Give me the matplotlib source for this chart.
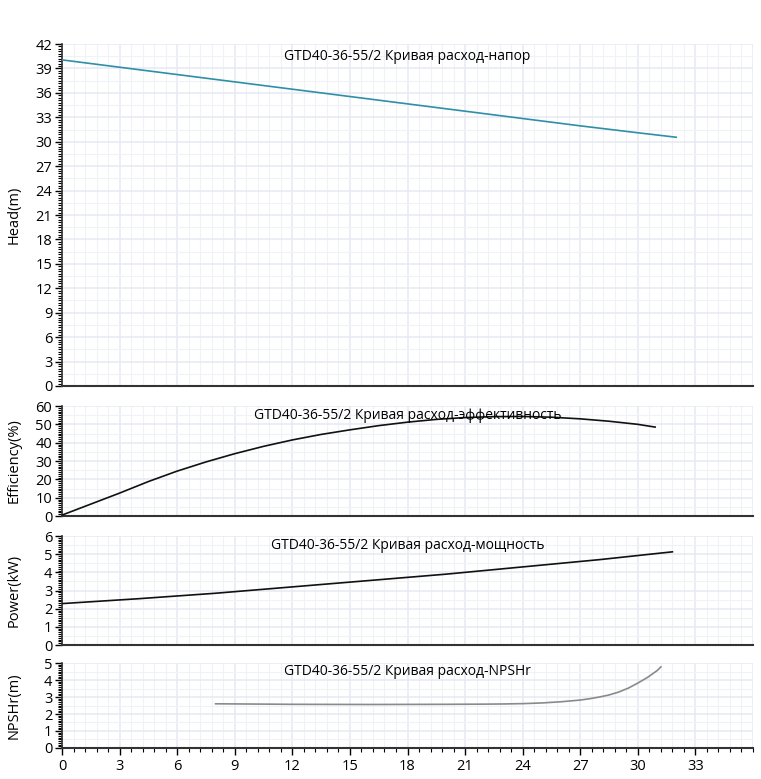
import numpy as np
import matplotlib
matplotlib.use("Agg")
import matplotlib.pyplot as plt
from matplotlib.ticker import MultipleLocator

plt.rcParams['font.family'] = ['Open Sans', 'DejaVu Sans']

# Data
head_q = [0, 3, 6, 9, 12, 15, 18, 21, 24, 27, 30, 32]
head_h = [40.05, 39.15, 38.25, 37.35, 36.45, 35.55, 34.65, 33.75, 32.85, 31.95, 31.1, 30.55]
eff_q = [0, 1.5, 3, 4.5, 6, 7.5, 9, 10.5, 12, 13.5, 15, 16.5, 18, 19.5, 21, 22.5,
         24, 25.5, 27, 28.5, 30, 30.9]
eff_v = [0.5, 6.5, 12.5, 18.8, 24.5, 29.5, 34, 38, 41.5, 44.5, 47, 49.3, 51.2, 52.7,
         53.7, 54.2, 54.3, 53.9, 53, 51.7, 50, 48.5]
pow_q = [0, 4, 8, 12, 16, 20, 24, 28, 31.8]
pow_v = [2.28, 2.55, 2.85, 3.2, 3.55, 3.9, 4.3, 4.7, 5.13]
npsh_q = [8, 12, 16, 20, 22, 23, 24, 25, 26, 27, 27.5, 28, 28.5, 29, 29.5, 30, 30.5, 31, 31.2]
npsh_v = [2.6, 2.57, 2.56, 2.57, 2.58, 2.59, 2.61, 2.65, 2.72, 2.82, 2.9, 3.0, 3.12,
          3.29, 3.52, 3.82, 4.15, 4.55, 4.77]

title_base = "GTD40-36-55/2 Кривая расход-"
panels = [
    dict(q=head_q, v=head_h, color='#2f8fa6', ylabel='Head(m)', ymax=42, ystep=3,
         title=title_base + 'напор', rect=[0.0815, 0.5045, 0.908, 0.439]),
    dict(q=eff_q, v=eff_v, color='#111111', ylabel='Efficiency(%)', ymax=60, ystep=10,
         title=title_base + 'эффективность', rect=[0.0815, 0.3376, 0.908, 0.1412]),
    dict(q=pow_q, v=pow_v, color='#111111', ylabel='Power(kW)', ymax=6, ystep=1,
         title=title_base + 'мощность', rect=[0.0815, 0.1720, 0.908, 0.1399]),
    dict(q=npsh_q, v=npsh_v, color='#8a8a8a', ylabel='NPSHr(m)', ymax=5, ystep=1,
         title=title_base + 'NPSHr', rect=[0.0815, 0.0398, 0.908, 0.1091]),
]

MAJOR_GRID = '#e6e9f2'
MINOR_GRID = '#f0f2f8'

fig = plt.figure(figsize=(7.61, 7.79), dpi=100)

for i, p in enumerate(panels):
    ax = fig.add_axes(p['rect'])
    ax.set_xlim(0, 36)
    ax.set_ylim(0, p['ymax'])

    # light grid: major and half-step lines
    for x in np.arange(0.6, 36.01, 0.6):
        major = abs(x / 3 - round(x / 3)) < 1e-6
        ax.axvline(x, color=MAJOR_GRID if major else MINOR_GRID,
                   lw=1.1 if major else 0.8, zorder=0)
    for y in np.arange(p['ystep'] / 2, p['ymax'] + 1e-6, p['ystep'] / 2):
        major = abs(y / p['ystep'] - round(y / p['ystep'])) < 1e-6
        ax.axhline(y, color=MAJOR_GRID if major else MINOR_GRID,
                   lw=1.1 if major else 0.8, zorder=0)

    ax.plot(p['q'], p['v'], color=p['color'], lw=1.2, zorder=3)

    for s in ['top', 'right']:
        ax.spines[s].set_visible(False)
    ax.spines['bottom'].set_color('#333333')
    ax.spines['bottom'].set_linewidth(1.5)
    ax.spines['left'].set_color('#333333')
    ax.spines['left'].set_linewidth(1.2)

    ax.yaxis.set_major_locator(MultipleLocator(p['ystep']))
    ax.yaxis.set_minor_locator(MultipleLocator(p['ystep'] / 10))
    ax.tick_params(axis='y', which='major', length=5, width=1, labelsize=10.5, pad=2)
    ax.tick_params(axis='y', which='minor', length=3, width=0.8)
    ax.set_ylabel(p['ylabel'], fontsize=10.5, labelpad=6)
    ax.yaxis.set_label_coords(-0.058, 0.5)

    ax.xaxis.set_major_locator(MultipleLocator(3))
    ax.xaxis.set_minor_locator(MultipleLocator(0.6))
    if i == len(panels) - 1:
        ax.set_xticks(np.arange(0, 36, 3))
        ax.tick_params(axis='x', which='major', length=5, width=1, labelsize=10.5, pad=3)
        ax.tick_params(axis='x', which='minor', length=3, width=0.8)
    else:
        ax.tick_params(axis='x', which='both', length=0, labelbottom=False)

    ax.text(0.5, 0.985, p['title'], transform=ax.transAxes, ha='center', va='top',
            fontsize=10, zorder=4)

fig.savefig('out.png', dpi=100)
